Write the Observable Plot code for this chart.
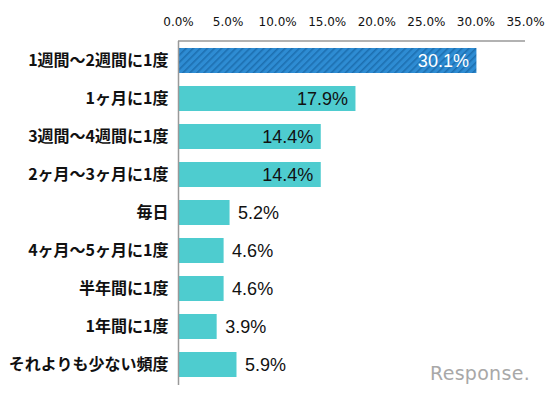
<!DOCTYPE html>
<html><head><meta charset="utf-8">
<script src="https://cdn.jsdelivr.net/npm/d3@7"></script>
<script src="https://cdn.jsdelivr.net/npm/@observablehq/plot@0.6"></script>
<style>
body{margin:0;background:#fff;}
#wrap{position:relative;width:557px;height:397px;}
#logo{position:absolute;left:430px;top:362px;font-family:"DejaVu Sans",sans-serif;font-size:19px;color:#a8a8a8;letter-spacing:0.3px;}
</style></head>
<body><div id="wrap"><div id="logo">Response.</div></div>
<script>
const categories = ["1週間〜2週間に1度","1ヶ月に1度","3週間〜4週間に1度","2ヶ月〜3ヶ月に1度","毎日","4ヶ月〜5ヶ月に1度","半年間に1度","1年間に1度","それよりも少ない頻度"];
const values = [30.1,17.9,14.4,14.4,5.2,4.6,4.6,3.9,5.9];
const ticks = [0,5,10,15,20,25,30,35];

const data = categories.map((c,i)=>({cat:c, v:values[i], i}));
const first = data.filter(d=>d.i===0);
const rest = data.filter(d=>d.i!==0);
const inside = data.filter(d=>d.v>10);
const outside = data.filter(d=>d.v<=10);

const chart = Plot.plot({
  width:557, height:397,
  marginLeft:178, marginRight:32, marginTop:41, marginBottom:12,
  x:{domain:[0,35], axis:"top", ticks:ticks, tickFormat:d=>d.toFixed(1)+"%", tickSize:0, tickPadding:16, label:null},
  y:{domain:categories, paddingInner:0.34, paddingOuter:0.17, tickSize:0, tickPadding:10, label:null},
  style:{fontFamily:"DejaVu Sans, sans-serif", fontSize:"12px", color:"#111", background:"#fff"},
  marks:[
    Plot.barX(rest,{x:"v", y:"cat", fill:"#4ECCCF"}),
    Plot.barX(first,{x:"v", y:"cat", fill:"url(#hatch)"}),
    Plot.ruleX([0],{stroke:"#999", strokeWidth:1.5}),
    Plot.text(inside,{x:"v", y:"cat", text:d=>d.v.toFixed(1)+"%", textAnchor:"end", dx:-8, fill:d=>d.i===0?"#fff":"#111", fontSize:18, fontFamily:"Liberation Sans, Arial, sans-serif"}),
    Plot.text(outside,{x:"v", y:"cat", text:d=>d.v.toFixed(1)+"%", textAnchor:"start", dx:8, fill:"#111", fontSize:18, fontFamily:"Liberation Sans, Arial, sans-serif"})
  ]
});
const svg = d3.select(chart);
const defs = svg.insert("defs",":first-child");
const pat = defs.append("pattern").attr("id","hatch").attr("patternUnits","userSpaceOnUse").attr("width",5).attr("height",5).attr("patternTransform","rotate(45)");
pat.append("rect").attr("width",5).attr("height",5).attr("fill","#2E8CD3");
pat.append("rect").attr("width",1.6).attr("height",5).attr("fill","#1D6FB0");
svg.selectAll("g[aria-label='y-axis tick label'] text").attr("font-size",16).attr("font-weight","bold").attr("font-family","Noto Sans CJK JP, sans-serif").attr("fill","#111");
// top axis line
svg.append("line").attr("x1",178).attr("x2",557-32).attr("y1",41).attr("y2",41).attr("stroke","#999").attr("stroke-width",1.5);
document.getElementById("wrap").prepend(chart);
</script>
</body></html>
